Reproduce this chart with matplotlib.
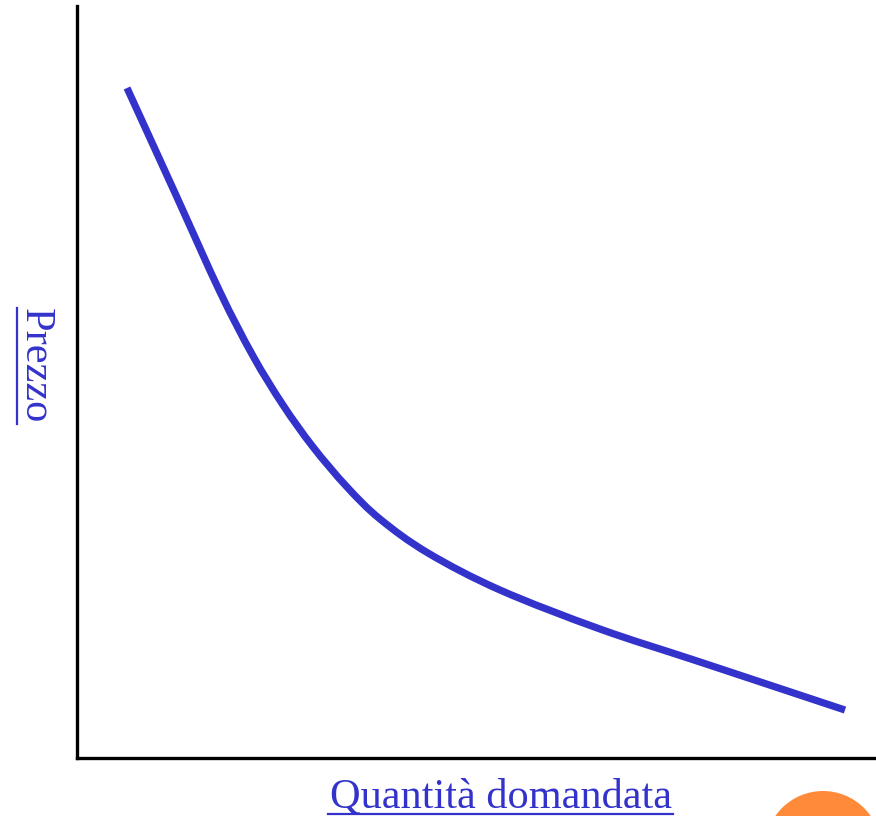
import matplotlib
matplotlib.use("Agg")
import matplotlib.pyplot as plt
import numpy as np
from matplotlib.lines import Line2D
from matplotlib.patches import Ellipse, PathPatch
from matplotlib.path import Path

# Demand curve (axis units 0-100)
quantity = [6.26, 12.27, 17.90, 22.03, 25.78, 29.54, 33.79, 37.92, 43.93,
            52.94, 65.46, 77.97, 96.12]
price = [89.10, 75.13, 61.97, 53.46, 46.94, 41.36, 36.04, 31.78, 27.26,
         22.34, 17.15, 12.77, 6.38]
x_label = "Quantità domandata"
y_label = "Prezzo"

W, H = 876, 816
blue = "#3333CC"

fig = plt.figure(figsize=(W / 100, H / 100), dpi=100)
fig.patch.set_facecolor("white")
ax = fig.add_axes([77 / W, (H - 758) / H, (W - 77) / W, (758 - 6) / H])
ax.set_xlim(0, 100)
ax.set_ylim(0, 100)
ax.set_xticks([])
ax.set_yticks([])
for s in ["top", "right"]:
    ax.spines[s].set_visible(False)
for s in ["left", "bottom"]:
    ax.spines[s].set_linewidth(2.4)
    ax.spines[s].set_color("black")

# smooth curve through the read points (Catmull-Rom -> cubic Bezier path)
pts = np.column_stack([quantity, price])
verts = [pts[0]]
codes = [Path.MOVETO]
n = len(pts)
for i in range(n - 1):
    p0 = pts[max(i - 1, 0)]
    p1 = pts[i]
    p2 = pts[i + 1]
    p3 = pts[min(i + 2, n - 1)]
    c1 = p1 + (p2 - p0) / 6.0
    c2 = p2 - (p3 - p1) / 6.0
    verts += [c1, c2, p2]
    codes += [Path.CURVE4] * 3
curve = PathPatch(Path(verts, codes), facecolor="none", edgecolor=blue,
                  lw=5.2, capstyle="butt", joinstyle="round")
ax.add_patch(curve)

font = dict(family="Liberation Serif", size=30.5, color=blue)
tx = fig.text(501 / W, (H - 807) / H, x_label, ha="center", va="baseline", **font)
ty = fig.text(35 / W, (H - 366) / H, y_label, ha="center", va="center",
              rotation=-90, **font)

fig.canvas.draw()
r = fig.canvas.get_renderer()
bx = tx.get_window_extent(r)
by = ty.get_window_extent(r)
# underline for x label
uy = (H - 814) / H
fig.add_artist(Line2D([(bx.x0 - 2) / W, (bx.x1 + 1) / W], [uy, uy], color=blue,
                      lw=1.6, transform=fig.transFigure))
# underline for y label (on the left side, baseline side)
ux = 17 / W
fig.add_artist(Line2D([ux, ux], [by.y0 / H, by.y1 / H], color=blue, lw=1.6,
                      transform=fig.transFigure))

# orange decorative circle at bottom right
fig.add_artist(Ellipse((823 / W, (H - 849) / H), 116 / W, 116 / H,
                       facecolor="#FF8A3A", edgecolor="none",
                       transform=fig.transFigure))

fig.savefig("out.png", dpi=100)
